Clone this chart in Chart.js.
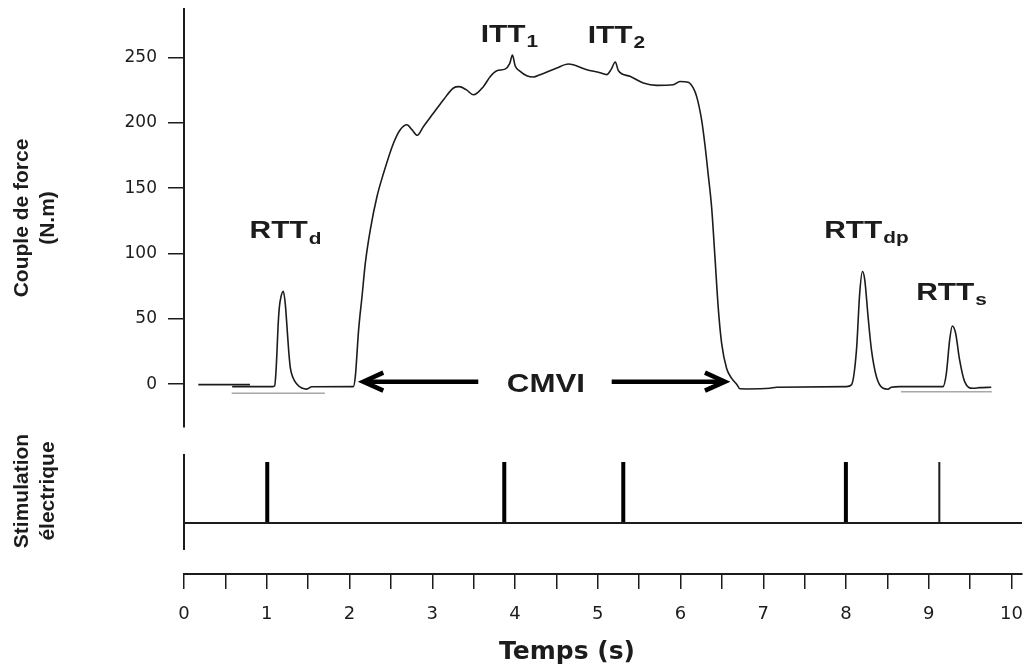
<!DOCTYPE html>
<html>
<head>
<meta charset="utf-8">
<title>Couple de force et stimulation</title>
<script src="https://cdn.jsdelivr.net/npm/chart.js@4.4.1/dist/chart.umd.min.js"></script>
<style>
  html, body { margin: 0; padding: 0; background: #fff; }
  #figure { position: relative; width: 1029px; height: 672px; overflow: hidden; }
  canvas { position: absolute; }
  #forceChart { left: 0; top: 0; }
  #stimChart { left: 0; top: 432px; }
  #timeChart { left: 112px; top: 552px; }
</style>
</head>
<body>
<div id="figure">
  <canvas id="forceChart" width="1029" height="432"></canvas>
  <canvas id="stimChart" width="1029" height="118"></canvas>
  <canvas id="timeChart" width="917" height="120"></canvas>
</div>
<script>
// values
const timeMax = 10.126; // right end of the time axis (s)
const timeTicks = [0, 0.5, 1, 1.5, 2, 2.5, 3, 3.5, 4, 4.5, 5, 5.5, 6, 6.5, 7, 7.5, 8, 8.5, 9, 9.5, 10];
const forceTicks = [0, 50, 100, 150, 200, 250];

// torque trace (s, N.m)
const forceTime = [
  0.582, 1.065, 1.096, 1.112, 1.124, 1.136, 1.152, 1.172, 1.200, 1.224, 1.245, 1.265, 1.284, 1.315, 1.363,
  1.423, 1.483, 1.544,
  2.046, 2.070, 2.110, 2.151, 2.191, 2.251, 2.332, 2.412, 2.532, 2.613, 2.694, 2.754, 2.818, 2.894, 3.015,
  3.136, 3.256, 3.325, 3.410, 3.498, 3.619, 3.699, 3.780, 3.880, 3.935, 3.969, 4.001, 4.062, 4.142, 4.222,
  4.303, 4.505, 4.645, 4.867, 5.027, 5.108, 5.160, 5.212, 5.248, 5.389, 5.550, 5.712, 5.912, 5.993, 6.093,
  6.153, 6.195, 6.255, 6.295, 6.335, 6.376, 6.416, 6.456, 6.497, 6.557, 6.618, 6.678, 6.718, 6.798, 7.079,
  7.160, 8.005, 8.065, 8.126, 8.165, 8.198, 8.226, 8.266, 8.307, 8.367, 8.447, 8.507, 8.548, 8.648, 9.171,
  9.212, 9.252, 9.284, 9.324, 9.372, 9.433, 9.533, 9.614, 9.755
];
const forceValues = [
  -1.8, -1.8, -1.1, 10.3, 25.6, 43.5, 58.8, 66.9, 71.1, 61.3, 43.5, 25.6, 12.9, 5.3, 0.2,
  -2.9, -3.7, -1.9,
  -1.8, 5.8, 41.6, 67.1, 92.6, 118.1, 143.6, 161.5, 184.5, 194.7, 198.5, 194.7, 190.4, 197.2, 207.4,
  217.6, 226.6, 227.6, 225.3, 221.4, 227.8, 235.2, 239.8, 241.0, 245.2, 251.7, 243.6, 239.3, 236.0, 235.0,
  236.8, 241.9, 244.9, 240.6, 238.3, 236.8, 240.6, 246.5, 240.0, 235.5, 230.4, 228.6, 229.1, 231.6, 230.9,
  226.6, 220.0, 202.0, 183.0, 160.0, 135.0, 97.0, 58.0, 31.0, 12.0, 4.5, 0.0, -3.5, -3.6, -3.1,
  -2.3, -1.8, -0.5, 26.3, 69.7, 86.2, 79.8, 51.7, 26.3, 5.8, -3.1, -3.8, -2.3, -1.8, -1.8,
  8.4, 33.9, 44.6, 39.0, 18.6, 2.0, -3.1, -2.6, -2.3
];

// short resting segment at the start and the two grey reference lines
const preTraceTime = [0.173, 0.797];
const preTraceValues = [-0.3, -0.3];
const restTimeA = [0.576, 1.702];
const restValuesA = [-6.9, -6.9];
const restTimeB = [8.663, 9.761];
const restValuesB = [-5.7, -5.7];

// electrical stimulations (s)
const stimTimes = [1.006, 3.870, 5.308, 7.998];
const stimWeakTimes = [9.127];

// labels on the torque panel: centre time, baseline level
const labelTexts = ['RTT', 'ITT', 'ITT', 'RTT', 'RTT'];
const labelSubs = ['d', '1', '2', 'dp', 's'];
const labelTimes = [1.226, 3.932, 5.226, 8.246, 9.274];
const labelLevels = [111.8, 261.8, 261.0, 112.2, 64.5];

const cmviTime = 4.373;
const cmviLevel = -5.7;
const arrowTails = [3.556, 5.168];
const arrowTips = [2.106, 6.597];
const arrowLevel = 2.0;

const INK = '#1c1c1c';
Chart.defaults.font.family = 'Liberation Sans';
Chart.defaults.color = INK;

const xy = (xs, ys) => xs.map((x, i) => ({ x, y: ys[i] }));
const pulses = times => times.flatMap(t => [{ x: t, y: 0 }, { x: t, y: 1 }, { x: t, y: null }]);

const sideTitleFont = { family: 'Liberation Sans', size: 21, weight: 'bold' };
const sideTitleWidth = 2 * 21 * 1.2 + 20;   // two lines + padding
const axisWidth = 184 - sideTitleWidth;

// keep the plot area where the figure has it: no extra room for tick labels
function noLabelPadding(s) {
    s.paddingTop = 0;
    s.paddingBottom = 0;
    s.paddingLeft = 0;
    s.paddingRight = 0;
}

function stretchedText(ctx, text, x, y, sx) {
    ctx.save();
    ctx.translate(x, y);
    ctx.scale(sx, 1);
    ctx.fillText(text, 0, 0);
    ctx.restore();
}

function drawLabel(ctx, main, sub, cx, by) {
    const sx = 1.3;
    ctx.font = 'bold 23px "Liberation Sans"';
    const w1 = ctx.measureText(main).width * sx;
    ctx.font = 'bold 16px "Liberation Sans"';
    const w2 = sub ? ctx.measureText(sub).width * sx : 0;
    const left = cx - (w1 + w2 + 1) / 2;
    ctx.font = 'bold 23px "Liberation Sans"';
    stretchedText(ctx, main, left, by, sx);
    if (sub) {
        ctx.font = 'bold 16px "Liberation Sans"';
        stretchedText(ctx, sub, left + w1 + 1, by + 5.5, sx);
    }
}

const figureNotes = {
    id: 'figureNotes',
    afterDatasetsDraw(chart) {
        const { ctx } = chart;
        const { x, y } = chart.scales;
        ctx.save();
        ctx.fillStyle = INK;
        ctx.strokeStyle = '#000';
        ctx.textBaseline = 'alphabetic';
        ctx.textAlign = 'left';

        labelTexts.forEach((txt, i) => {
            drawLabel(ctx, txt, labelSubs[i], x.getPixelForValue(labelTimes[i]), y.getPixelForValue(labelLevels[i]));
        });

        // CMVI with its two arrows
        ctx.font = 'bold 25px "Liberation Sans"';
        const cw = ctx.measureText('CMVI').width * 1.25;
        stretchedText(ctx, 'CMVI', x.getPixelForValue(cmviTime) - cw / 2, y.getPixelForValue(cmviLevel), 1.25);

        const yy = y.getPixelForValue(arrowLevel);
        ctx.lineWidth = 4.5;
        ctx.lineJoin = 'miter';
        arrowTails.forEach((tail, i) => {
            const xt = x.getPixelForValue(tail);
            const xp = x.getPixelForValue(arrowTips[i]);
            const dir = Math.sign(xt - xp);
            ctx.beginPath();
            ctx.moveTo(xt, yy);
            ctx.lineTo(xp + dir * 6, yy);
            ctx.stroke();
            ctx.beginPath();
            ctx.moveTo(xp + dir * 25, yy - 9);
            ctx.lineTo(xp + dir * 5, yy);
            ctx.lineTo(xp + dir * 25, yy + 9);
            ctx.stroke();
        });
        ctx.restore();
    }
};

// top panel: torque
new Chart(document.getElementById('forceChart'), {
    type: 'line',
    data: {
        datasets: [{
            data: xy(forceTime, forceValues),
            borderColor: INK,
            borderWidth: 1.6,
            cubicInterpolationMode: 'monotone'
        }, {
            data: xy(preTraceTime, preTraceValues),
            borderColor: INK,
            borderWidth: 1.6
        }, {
            data: xy(restTimeA, restValuesA),
            borderColor: '#a8a8a8',
            borderWidth: 1.5
        }, {
            data: xy(restTimeB, restValuesB),
            borderColor: '#a8a8a8',
            borderWidth: 1.5
        }]
    },
    options: {
        responsive: false,
        animation: false,
        elements: { point: { radius: 0 }, line: { tension: 0 } },
        layout: { padding: { top: 9, bottom: 5, left: 0, right: 7 } },
        plugins: {
            legend: { display: false },
            tooltip: { enabled: false },
            title: {
                display: true,
                position: 'left',
                text: ['Couple de force', '(N.m)'],
                font: sideTitleFont,
                color: INK,
                padding: { top: 10, bottom: 10 }
            }
        },
        scales: {
            x: { type: 'linear', min: 0, max: timeMax, display: false },
            y: {
                type: 'linear',
                min: -32.7,
                max: 287,
                afterBuildTicks: s => { s.ticks = forceTicks.map(v => ({ value: v })); },
                afterFit: s => { s.width = axisWidth; noLabelPadding(s); },
                grid: { drawOnChartArea: false, drawTicks: true, tickLength: 16, color: INK, lineWidth: 1.5 },
                border: { color: INK, width: 2 },
                ticks: { font: { family: 'DejaVu Sans', size: 17 }, color: INK, padding: 11 }
            }
        }
    },
    plugins: [figureNotes]
});

// middle panel: electrical stimulation
new Chart(document.getElementById('stimChart'), {
    type: 'line',
    data: {
        datasets: [{
            data: [{ x: 0, y: 0 }, { x: timeMax, y: 0 }],
            borderColor: INK,
            borderWidth: 2
        }, {
            data: pulses(stimTimes),
            borderColor: '#000',
            borderWidth: 4
        }, {
            data: pulses(stimWeakTimes),
            borderColor: INK,
            borderWidth: 2
        }]
    },
    options: {
        responsive: false,
        animation: false,
        spanGaps: false,
        elements: { point: { radius: 0 }, line: { tension: 0, borderCapStyle: 'butt' } },
        layout: { padding: { top: 0, bottom: 0, left: 0, right: 7 } },
        plugins: {
            legend: { display: false },
            tooltip: { enabled: false },
            title: {
                display: true,
                position: 'left',
                text: ['Stimulation', 'électrique'],
                font: sideTitleFont,
                color: INK,
                padding: { top: 10, bottom: 10 }
            }
        },
        scales: {
            x: {
                type: 'linear', position: 'top', min: 0, max: timeMax,
                ticks: { display: false }, grid: { display: false }, border: { display: false },
                afterFit: s => { s.height = 23; noLabelPadding(s); }
            },
            y: {
                type: 'linear', min: -0.4426, max: 1.1148,
                ticks: { display: false }, grid: { display: false },
                border: { color: INK, width: 2 },
                afterFit: s => { s.width = axisWidth; noLabelPadding(s); }
            }
        }
    }
});

// bottom: time axis
new Chart(document.getElementById('timeChart'), {
    type: 'line',
    data: { datasets: [] },
    options: {
        responsive: false,
        animation: false,
        layout: { padding: { top: 14, bottom: 0, left: 0, right: 7 } },
        plugins: {
            legend: { display: false },
            tooltip: { enabled: false },
            title: {
                display: true,
                position: 'bottom',
                text: 'Temps (s)',
                font: { family: 'DejaVu Sans', size: 25, weight: 'bold' },
                color: INK,
                padding: { top: 11, bottom: 5 }
            }
        },
        scales: {
            x: {
                type: 'linear', min: 0, max: timeMax,
                afterBuildTicks: s => { s.ticks = timeTicks.map(v => ({ value: v })); },
                afterFit: s => { s.height = 52; noLabelPadding(s); },
                grid: { drawOnChartArea: false, drawTicks: true, tickLength: 15, color: INK, lineWidth: 1.5 },
                border: { color: INK, width: 2 },
                ticks: {
                    autoSkip: false, maxRotation: 0, padding: 15,
                    font: { family: 'DejaVu Sans', size: 18 }, color: INK,
                    callback: v => Number.isInteger(v) ? String(v) : ''
                }
            },
            y: {
                ticks: { display: false }, grid: { display: false }, border: { display: false },
                afterFit: s => { s.width = 72; noLabelPadding(s); }
            }
        }
    }
});
</script>
</body>
</html>
